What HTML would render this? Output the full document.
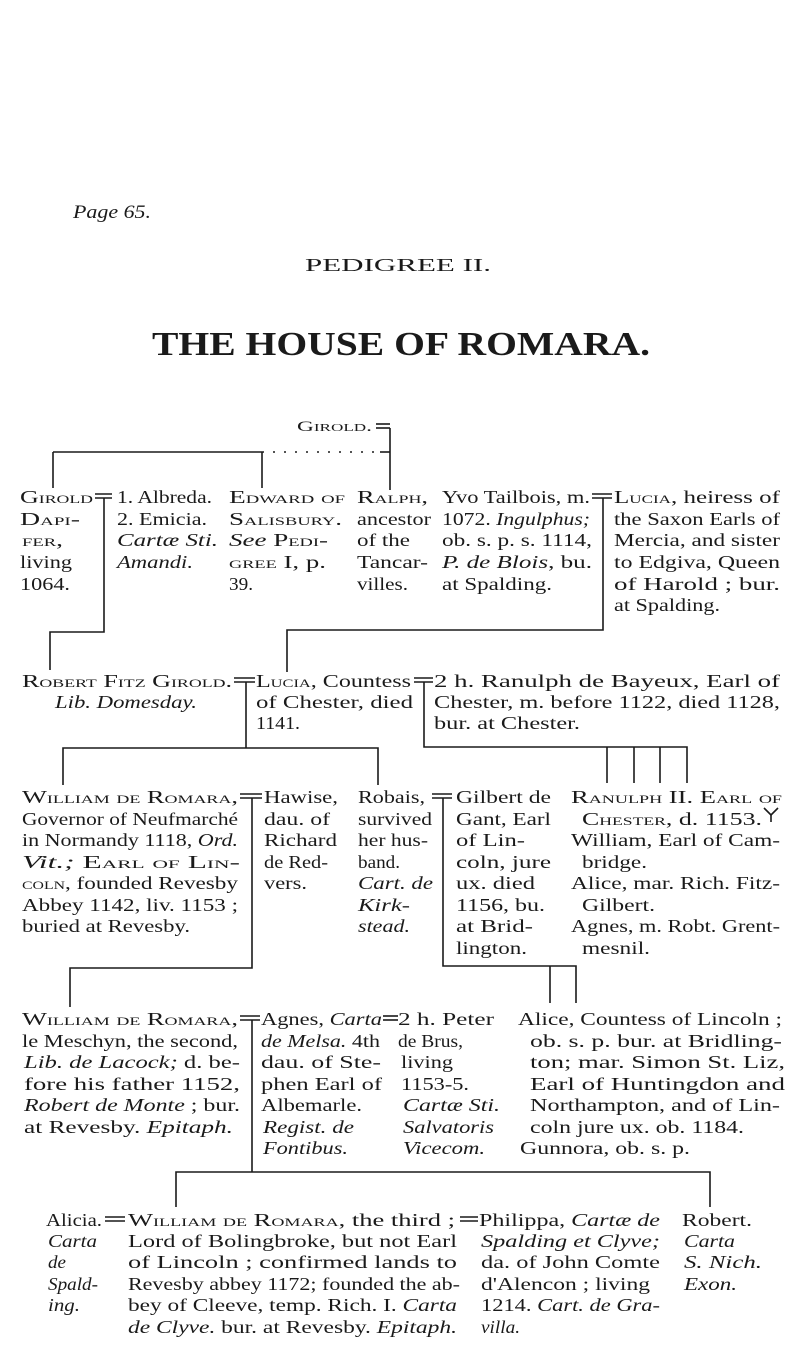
<!DOCTYPE html>
<html><head><meta charset="utf-8"><style>
html,body{margin:0;padding:0;background:#fff;}
svg{display:block;}
text{font-family:"Liberation Serif",serif;font-size:17.6px;fill:#1a1a1a;}
.i{font-style:italic;}
.sc{font-variant:small-caps;}
line,polyline{stroke:#1a1a1a;stroke-width:1.6;fill:none;}
</style></head><body>
<svg width="800" height="1360" viewBox="0 0 800 1360" xmlns="http://www.w3.org/2000/svg">
<!-- headings -->
<text x="73" y="218" class="i" style="font-size:19px" textLength="78" lengthAdjust="spacingAndGlyphs">Page 65.</text>
<text x="305" y="271" style="font-size:18px" textLength="186" lengthAdjust="spacingAndGlyphs">PEDIGREE II.</text>
<text x="152" y="355" style="font-size:34px;font-weight:bold" textLength="498" lengthAdjust="spacingAndGlyphs">THE HOUSE OF ROMARA.</text>
<text x="297" y="431" class="sc" style="font-size:15px" textLength="75" lengthAdjust="spacingAndGlyphs">Girold.</text>

<!-- connectors -->
<g>
<line x1="376" y1="424" x2="390" y2="424"/><line x1="376" y1="428" x2="390" y2="428"/>
<line x1="390" y1="428" x2="390" y2="490"/>
<line x1="53" y1="452" x2="262" y2="452"/>
<line x1="262" y1="452" x2="380" y2="452" style="stroke-dasharray:2 9"/>
<line x1="380" y1="452" x2="390" y2="452"/>
<line x1="53" y1="452" x2="53" y2="488"/><line x1="262" y1="452" x2="262" y2="488"/>

<line x1="95" y1="494" x2="112" y2="494"/><line x1="95" y1="498" x2="112" y2="498"/>
<polyline points="104,498 104,632 50,632 50,670"/>

<line x1="592" y1="494" x2="612" y2="494"/><line x1="592" y1="498" x2="612" y2="498"/>
<polyline points="603,498 603,630 287,630 287,672"/>

<line x1="234" y1="678" x2="255" y2="678"/><line x1="234" y1="682" x2="255" y2="682"/>
<line x1="246" y1="682" x2="246" y2="748"/>
<polyline points="63,785 63,748 378,748 378,785"/>

<line x1="414" y1="678" x2="433" y2="678"/><line x1="414" y1="682" x2="433" y2="682"/>
<polyline points="424,682 424,747 687,747 687,783"/>
<line x1="607" y1="747" x2="607" y2="783"/><line x1="634" y1="747" x2="634" y2="783"/><line x1="660" y1="747" x2="660" y2="783"/>

<line x1="240" y1="794" x2="262" y2="794"/><line x1="240" y1="798" x2="262" y2="798"/>
<polyline points="252,798 252,968 70,968 70,1007"/>

<line x1="432" y1="794" x2="452" y2="794"/><line x1="432" y1="798" x2="452" y2="798"/>
<polyline points="443,798 443,966 576,966 576,1003"/>
<line x1="550" y1="966" x2="550" y2="1003"/>

<line x1="240" y1="1016" x2="260" y2="1016"/><line x1="240" y1="1020" x2="260" y2="1020"/>
<line x1="252" y1="1020" x2="252" y2="1172"/>
<polyline points="176,1207 176,1172 710,1172 710,1207"/>

<line x1="383" y1="1016" x2="398" y2="1016"/><line x1="383" y1="1020" x2="398" y2="1020"/>
<line x1="105" y1="1217" x2="125" y2="1217"/><line x1="105" y1="1221" x2="125" y2="1221"/>
<line x1="460" y1="1217" x2="478" y2="1217"/><line x1="460" y1="1221" x2="478" y2="1221"/>
<polyline points="764,808 771,815 778,808"/><line x1="771" y1="815" x2="771" y2="822"/>
</g>

<!-- Row 1 -->
<g>
<text x="20" y="503" class="sc" textLength="73" lengthAdjust="spacingAndGlyphs">Girold</text>
<text x="20" y="525" class="sc" textLength="60" lengthAdjust="spacingAndGlyphs">Dapi-</text>
<text x="22" y="546" class="sc" textLength="41" lengthAdjust="spacingAndGlyphs">fer,</text>
<text x="20" y="568" textLength="52" lengthAdjust="spacingAndGlyphs">living</text>
<text x="20" y="590" textLength="50" lengthAdjust="spacingAndGlyphs">1064.</text>

<text x="117" y="503" textLength="95" lengthAdjust="spacingAndGlyphs">1. Albreda.</text>
<text x="117" y="525" textLength="90" lengthAdjust="spacingAndGlyphs">2. Emicia.</text>
<text x="117" y="546" class="i" textLength="101" lengthAdjust="spacingAndGlyphs">Cartæ Sti.</text>
<text x="117" y="568" class="i" textLength="76" lengthAdjust="spacingAndGlyphs">Amandi.</text>

<text x="229" y="503" class="sc" textLength="116" lengthAdjust="spacingAndGlyphs">Edward of</text>
<text x="229" y="525" class="sc" textLength="113" lengthAdjust="spacingAndGlyphs">Salisbury.</text>
<text x="229" y="546" textLength="99" lengthAdjust="spacingAndGlyphs"><tspan class="i">See</tspan> <tspan class="sc">Pedi-</tspan></text>
<text x="229" y="568" textLength="97" lengthAdjust="spacingAndGlyphs"><tspan class="sc">gree</tspan> I, p.</text>
<text x="229" y="590" textLength="24" lengthAdjust="spacingAndGlyphs">39.</text>

<text x="357" y="503" class="sc" textLength="71" lengthAdjust="spacingAndGlyphs">Ralph,</text>
<text x="357" y="525" textLength="74" lengthAdjust="spacingAndGlyphs">ancestor</text>
<text x="357" y="546" textLength="53" lengthAdjust="spacingAndGlyphs">of the</text>
<text x="357" y="568" textLength="71" lengthAdjust="spacingAndGlyphs">Tancar-</text>
<text x="357" y="590" textLength="51" lengthAdjust="spacingAndGlyphs">villes.</text>

<text x="442" y="503" textLength="148" lengthAdjust="spacingAndGlyphs">Yvo Tailbois, m.</text>
<text x="442" y="525" textLength="148" lengthAdjust="spacingAndGlyphs">1072. <tspan class="i">Ingulphus;</tspan></text>
<text x="442" y="546" textLength="150" lengthAdjust="spacingAndGlyphs">ob. s. p. s. 1114,</text>
<text x="442" y="568" textLength="150" lengthAdjust="spacingAndGlyphs"><tspan class="i">P. de Blois</tspan>, bu.</text>
<text x="442" y="590" textLength="110" lengthAdjust="spacingAndGlyphs">at Spalding.</text>

<text x="614" y="503" textLength="166" lengthAdjust="spacingAndGlyphs"><tspan class="sc">Lucia</tspan>,  heiress of</text>
<text x="614" y="525" textLength="166" lengthAdjust="spacingAndGlyphs">the Saxon Earls of</text>
<text x="614" y="546" textLength="166" lengthAdjust="spacingAndGlyphs">Mercia, and sister</text>
<text x="614" y="568" textLength="166" lengthAdjust="spacingAndGlyphs">to Edgiva,  Queen</text>
<text x="614" y="590" textLength="166" lengthAdjust="spacingAndGlyphs">of  Harold ;  bur.</text>
<text x="614" y="611" textLength="106" lengthAdjust="spacingAndGlyphs">at Spalding.</text>
</g>

<!-- Row 2 -->
<g>
<text x="22" y="687" class="sc" textLength="210" lengthAdjust="spacingAndGlyphs">Robert Fitz Girold.</text>
<text x="55" y="708" class="i" textLength="142" lengthAdjust="spacingAndGlyphs">Lib. Domesday.</text>
<text x="256" y="687" textLength="155" lengthAdjust="spacingAndGlyphs"><tspan class="sc">Lucia</tspan>, Countess</text>
<text x="256" y="708" textLength="157" lengthAdjust="spacingAndGlyphs">of Chester,  died</text>
<text x="256" y="729" textLength="44" lengthAdjust="spacingAndGlyphs">1141.</text>
<text x="434" y="687" textLength="346" lengthAdjust="spacingAndGlyphs">2 h.  Ranulph  de  Bayeux,  Earl  of</text>
<text x="434" y="708" textLength="346" lengthAdjust="spacingAndGlyphs">Chester, m. before 1122, died 1128,</text>
<text x="434" y="729" textLength="146" lengthAdjust="spacingAndGlyphs">bur. at Chester.</text>
</g>

<!-- Row 3 -->
<g>
<text x="22" y="803" class="sc" textLength="216" lengthAdjust="spacingAndGlyphs">William de Romara,</text>
<text x="22" y="825" textLength="216" lengthAdjust="spacingAndGlyphs">Governor of Neufmarché</text>
<text x="22" y="846" textLength="216" lengthAdjust="spacingAndGlyphs">in Normandy 1118, <tspan class="i">Ord.</tspan></text>
<text x="22" y="868" textLength="218" lengthAdjust="spacingAndGlyphs"><tspan class="i">Vit.;</tspan>  <tspan class="sc">Earl  of  Lin-</tspan></text>
<text x="22" y="889" textLength="216" lengthAdjust="spacingAndGlyphs"><tspan class="sc">coln</tspan>, founded Revesby</text>
<text x="22" y="911" textLength="216" lengthAdjust="spacingAndGlyphs">Abbey 1142, liv. 1153 ;</text>
<text x="22" y="932" textLength="168" lengthAdjust="spacingAndGlyphs">buried at Revesby.</text>

<text x="264" y="803" textLength="74" lengthAdjust="spacingAndGlyphs">Hawise,</text>
<text x="264" y="825" textLength="66" lengthAdjust="spacingAndGlyphs">dau.  of</text>
<text x="264" y="846" textLength="73" lengthAdjust="spacingAndGlyphs">Richard</text>
<text x="264" y="868" textLength="64" lengthAdjust="spacingAndGlyphs">de Red-</text>
<text x="264" y="889" textLength="43" lengthAdjust="spacingAndGlyphs">vers.</text>

<text x="358" y="803" textLength="67" lengthAdjust="spacingAndGlyphs">Robais,</text>
<text x="358" y="825" textLength="74" lengthAdjust="spacingAndGlyphs">survived</text>
<text x="358" y="846" textLength="70" lengthAdjust="spacingAndGlyphs">her hus-</text>
<text x="358" y="868" textLength="42" lengthAdjust="spacingAndGlyphs">band.</text>
<text x="358" y="889" class="i" textLength="75" lengthAdjust="spacingAndGlyphs">Cart. de</text>
<text x="358" y="911" class="i" textLength="52" lengthAdjust="spacingAndGlyphs">Kirk-</text>
<text x="358" y="932" class="i" textLength="52" lengthAdjust="spacingAndGlyphs">stead.</text>

<text x="456" y="803" textLength="95" lengthAdjust="spacingAndGlyphs">Gilbert de</text>
<text x="456" y="825" textLength="95" lengthAdjust="spacingAndGlyphs">Gant, Earl</text>
<text x="456" y="846" textLength="69" lengthAdjust="spacingAndGlyphs">of  Lin-</text>
<text x="456" y="868" textLength="95" lengthAdjust="spacingAndGlyphs">coln,  jure</text>
<text x="456" y="889" textLength="79" lengthAdjust="spacingAndGlyphs">ux.  died</text>
<text x="456" y="911" textLength="89" lengthAdjust="spacingAndGlyphs">1156,  bu.</text>
<text x="456" y="932" textLength="77" lengthAdjust="spacingAndGlyphs">at  Brid-</text>
<text x="456" y="954" textLength="71" lengthAdjust="spacingAndGlyphs">lington.</text>

<text x="571" y="803" class="sc" textLength="211" lengthAdjust="spacingAndGlyphs">Ranulph II. Earl of</text>
<text x="582" y="825" textLength="180" lengthAdjust="spacingAndGlyphs"><tspan class="sc">Chester</tspan>, d. 1153.</text>
<text x="571" y="846" textLength="209" lengthAdjust="spacingAndGlyphs">William, Earl of Cam-</text>
<text x="582" y="868" textLength="65" lengthAdjust="spacingAndGlyphs">bridge.</text>
<text x="571" y="889" textLength="209" lengthAdjust="spacingAndGlyphs">Alice, mar. Rich. Fitz-</text>
<text x="582" y="911" textLength="73" lengthAdjust="spacingAndGlyphs">Gilbert.</text>
<text x="571" y="932" textLength="209" lengthAdjust="spacingAndGlyphs">Agnes, m. Robt. Grent-</text>
<text x="582" y="954" textLength="68" lengthAdjust="spacingAndGlyphs">mesnil.</text>
</g>

<!-- Row 4 -->
<g>
<text x="22" y="1025" class="sc" textLength="216" lengthAdjust="spacingAndGlyphs">William de Romara,</text>
<text x="22" y="1047" textLength="216" lengthAdjust="spacingAndGlyphs">le Meschyn, the second,</text>
<text x="24" y="1068" textLength="216" lengthAdjust="spacingAndGlyphs"><tspan class="i">Lib. de Lacock;</tspan> d. be-</text>
<text x="24" y="1090" textLength="216" lengthAdjust="spacingAndGlyphs">fore  his  father  1152,</text>
<text x="24" y="1111" textLength="216" lengthAdjust="spacingAndGlyphs"><tspan class="i">Robert de Monte</tspan> ;  bur.</text>
<text x="24" y="1133" textLength="209" lengthAdjust="spacingAndGlyphs">at Revesby.  <tspan class="i">Epitaph.</tspan></text>

<text x="261" y="1025" textLength="121" lengthAdjust="spacingAndGlyphs">Agnes, <tspan class="i">Carta</tspan></text>
<text x="261" y="1047" textLength="119" lengthAdjust="spacingAndGlyphs"><tspan class="i">de Melsa.</tspan> 4th</text>
<text x="261" y="1068" textLength="120" lengthAdjust="spacingAndGlyphs">dau.  of  Ste-</text>
<text x="261" y="1090" textLength="121" lengthAdjust="spacingAndGlyphs">phen Earl of</text>
<text x="261" y="1111" textLength="101" lengthAdjust="spacingAndGlyphs">Albemarle.</text>
<text x="263" y="1133" class="i" textLength="91" lengthAdjust="spacingAndGlyphs">Regist. de</text>
<text x="263" y="1154" class="i" textLength="85" lengthAdjust="spacingAndGlyphs">Fontibus.</text>

<text x="398" y="1025" textLength="96" lengthAdjust="spacingAndGlyphs">2 h.  Peter</text>
<text x="398" y="1047" textLength="65" lengthAdjust="spacingAndGlyphs">de Brus,</text>
<text x="401" y="1068" textLength="52" lengthAdjust="spacingAndGlyphs">living</text>
<text x="401" y="1090" textLength="68" lengthAdjust="spacingAndGlyphs">1153-5.</text>
<text x="403" y="1111" class="i" textLength="97" lengthAdjust="spacingAndGlyphs">Cartæ Sti.</text>
<text x="403" y="1133" class="i" textLength="91" lengthAdjust="spacingAndGlyphs">Salvatoris</text>
<text x="403" y="1154" class="i" textLength="82" lengthAdjust="spacingAndGlyphs">Vicecom.</text>

<text x="518" y="1025" textLength="264" lengthAdjust="spacingAndGlyphs">Alice, Countess of  Lincoln ;</text>
<text x="530" y="1047" textLength="252" lengthAdjust="spacingAndGlyphs">ob.  s.  p.  bur.  at  Bridling-</text>
<text x="530" y="1068" textLength="255" lengthAdjust="spacingAndGlyphs">ton;  mar.  Simon  St.  Liz,</text>
<text x="530" y="1090" textLength="255" lengthAdjust="spacingAndGlyphs">Earl  of  Huntingdon  and</text>
<text x="530" y="1111" textLength="250" lengthAdjust="spacingAndGlyphs">Northampton,  and  of  Lin-</text>
<text x="530" y="1133" textLength="214" lengthAdjust="spacingAndGlyphs">coln jure ux. ob. 1184.</text>
<text x="520" y="1154" textLength="170" lengthAdjust="spacingAndGlyphs">Gunnora, ob. s. p.</text>
</g>

<!-- Row 5 -->
<g>
<text x="46" y="1226" textLength="56" lengthAdjust="spacingAndGlyphs">Alicia.</text>
<text x="48" y="1247" class="i" textLength="49" lengthAdjust="spacingAndGlyphs">Carta</text>
<text x="48" y="1268" class="i" textLength="18" lengthAdjust="spacingAndGlyphs">de</text>
<text x="48" y="1290" class="i" textLength="50" lengthAdjust="spacingAndGlyphs">Spald-</text>
<text x="48" y="1311" class="i" textLength="32" lengthAdjust="spacingAndGlyphs">ing.</text>

<text x="128" y="1226" textLength="327" lengthAdjust="spacingAndGlyphs"><tspan class="sc">William  de  Romara</tspan>, the third ;</text>
<text x="128" y="1247" textLength="329" lengthAdjust="spacingAndGlyphs">Lord of  Bolingbroke, but not  Earl</text>
<text x="128" y="1268" textLength="329" lengthAdjust="spacingAndGlyphs">of  Lincoln ;  confirmed  lands  to</text>
<text x="128" y="1290" textLength="332" lengthAdjust="spacingAndGlyphs">Revesby abbey 1172; founded the ab-</text>
<text x="128" y="1311" textLength="329" lengthAdjust="spacingAndGlyphs">bey of Cleeve, temp. Rich. I. <tspan class="i">Carta</tspan></text>
<text x="128" y="1333" textLength="329" lengthAdjust="spacingAndGlyphs"><tspan class="i">de Clyve.</tspan> bur. at Revesby. <tspan class="i">Epitaph.</tspan></text>

<text x="479" y="1226" textLength="181" lengthAdjust="spacingAndGlyphs">Philippa,  <tspan class="i">Cartæ  de</tspan></text>
<text x="481" y="1247" class="i" textLength="179" lengthAdjust="spacingAndGlyphs">Spalding  et  Clyve;</text>
<text x="481" y="1268" textLength="179" lengthAdjust="spacingAndGlyphs">da.  of John Comte</text>
<text x="481" y="1290" textLength="169" lengthAdjust="spacingAndGlyphs">d'Alencon ;  living</text>
<text x="481" y="1311" textLength="179" lengthAdjust="spacingAndGlyphs">1214. <tspan class="i">Cart. de Gra-</tspan></text>
<text x="481" y="1333" class="i" textLength="39" lengthAdjust="spacingAndGlyphs">villa.</text>

<text x="682" y="1226" textLength="70" lengthAdjust="spacingAndGlyphs">Robert.</text>
<text x="684" y="1247" class="i" textLength="51" lengthAdjust="spacingAndGlyphs">Carta</text>
<text x="684" y="1268" class="i" textLength="78" lengthAdjust="spacingAndGlyphs">S. Nich.</text>
<text x="684" y="1290" class="i" textLength="53" lengthAdjust="spacingAndGlyphs">Exon.</text>
</g>
</svg>
</body></html>
